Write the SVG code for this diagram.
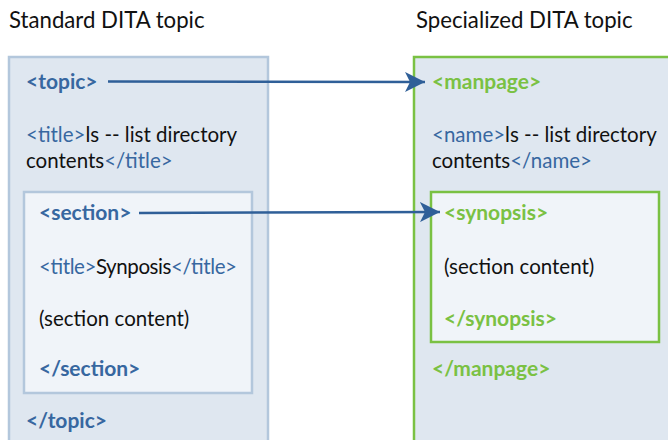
<svg xmlns="http://www.w3.org/2000/svg" width="668" height="440" viewBox="0 0 668 440">
<defs>
<style>
text{font-family:"Lato","Open Sans","Liberation Sans",sans-serif;font-size:20.5px;fill:#111}
.hd{font-size:22.2px}
.b{fill:#3767a0}
.g{fill:#7ac143}
.bb{font-weight:bold;font-size:21px}
.outerB{fill:#dfe7f0;stroke:#b3c7dc;stroke-width:2.5}
.innerB{fill:#f0f4f9;stroke:#b3c7dc;stroke-width:2.5}
.outerG{fill:#dfe7f0;stroke:#7ac143;stroke-width:2.5}
.innerG{fill:#f0f4f9;stroke:#7ac143;stroke-width:2.5}
.conn{stroke:#2f5f98;stroke-width:2.5;fill:none}
</style>
<marker id="ah" markerWidth="20" markerHeight="20" viewBox="0 0 20 20" refX="20" refY="10" orient="auto" markerUnits="userSpaceOnUse">
<path d="M0,0 L20,10 L0,20 L5,10 Z" fill="#2f5f98"/>
</marker>
</defs>
<rect width="668" height="440" fill="#fff"/>
<text class="hd" x="9" y="28">Standard DITA topic</text>
<text class="hd" x="416" y="28">Specialized DITA topic</text>

<g id="topic">
<rect class="outerB" x="9" y="57" width="259" height="400"/>
<text class="b bb" x="26" y="89">&lt;topic&gt;</text>
<text x="26" y="142"><tspan class="b">&lt;title&gt;</tspan>ls -- list directory</text>
<text x="26" y="168">contents<tspan class="b">&lt;/title&gt;</tspan></text>
<text class="b bb" x="26" y="428">&lt;/topic&gt;</text>
</g>
<g id="section">
<rect class="innerB" x="24" y="192" width="228" height="201"/>
<text class="b bb" x="39" y="220">&lt;section&gt;</text>
<text x="39" y="274" textLength="198"><tspan class="b">&lt;title&gt;</tspan>Synposis<tspan class="b">&lt;/title&gt;</tspan></text>
<text x="39" y="326">(section content)</text>
<text class="b bb" x="39" y="376">&lt;/section&gt;</text>
</g>

<g id="manpage">
<rect class="outerG" x="414" y="57" width="270" height="400"/>
<text class="g bb" x="432" y="89">&lt;manpage&gt;</text>
<text x="432" y="142"><tspan class="b">&lt;name&gt;</tspan>ls -- list directory</text>
<text x="432" y="168">contents<tspan class="b">&lt;/name&gt;</tspan></text>
<text class="g bb" x="432" y="376">&lt;/manpage&gt;</text>
</g>
<g id="synopsis">
<rect class="innerG" x="431" y="192" width="228" height="150"/>
<text class="g bb" x="444" y="220">&lt;synopsis&gt;</text>
<text x="444" y="274">(section content)</text>
<text class="g bb" x="444" y="326">&lt;/synopsis&gt;</text>
</g>

<g id="connectors">
<path class="conn" d="M108,81.5 L425,82" marker-end="url(#ah)"/>
<path class="conn" d="M139,213 L440,212" marker-end="url(#ah)"/>
</g>
</svg>
